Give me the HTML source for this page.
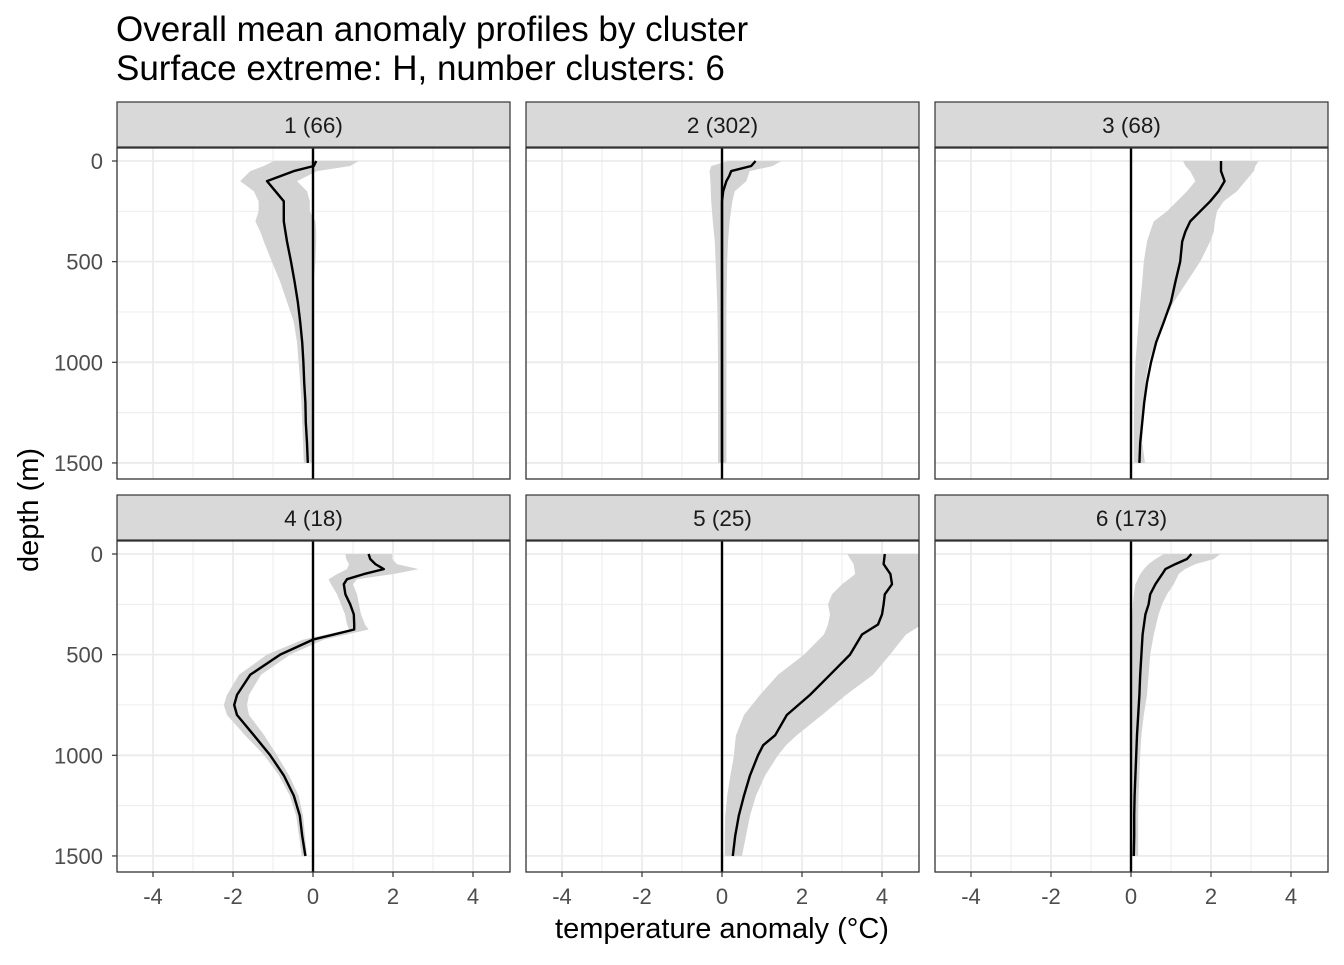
<!DOCTYPE html>
<html><head><meta charset="utf-8"><style>
body{margin:0;background:#fff;}
svg text{font-family:"Liberation Sans",sans-serif;}
</style></head><body>
<svg id="chart" width="1344" height="960" xmlns="http://www.w3.org/2000/svg">
<text x="116" y="41" font-size="35" fill="#000">Overall mean anomaly profiles by cluster</text>
<text x="116" y="80" font-size="35" fill="#000">Surface extreme: H, number clusters: 6</text>
<text x="722" y="938" font-size="29" text-anchor="middle" fill="#000">temperature anomaly (°C)</text>
<text transform="translate(38,510) rotate(-90)" font-size="29" text-anchor="middle" fill="#000">depth (m)</text>
</svg>
<script>
const clusterLabels = ["1 (66)","2 (302)","3 (68)","4 (18)","5 (25)","6 (173)"];
const xTicks = [-4,-2,0,2,4];
const yTicks = [0,500,1000,1500];
const depth1 = [0,25,50,100,150,200,250,300,350,400,500,600,700,800,900,1000,1100,1200,1300,1400,1500];
const mean1 = [0.08,0.02,-0.48,-1.15,-0.94,-0.73,-0.73,-0.73,-0.69,-0.65,-0.55,-0.46,-0.38,-0.32,-0.27,-0.24,-0.22,-0.19,-0.18,-0.15,-0.13];
const lo1 = [-0.98,-1.23,-1.57,-1.82,-1.48,-1.36,-1.36,-1.44,-1.32,-1.23,-1.03,-0.82,-0.65,-0.48,-0.4,-0.36,-0.32,-0.29,-0.27,-0.25,-0.23];
const hi1 = [1.14,0.93,0.1,-0.4,-0.15,-0.08,-0.08,0.06,0.08,0.08,0.06,0.02,0.0,0.0,0.0,0.0,0.0,0.0,0.0,0.0,0.0];
const depth2 = [0,25,50,75,100,150,200,300,400,500,600,700,800,1000,1200,1500];
const mean2 = [0.84,0.73,0.23,0.18,0.11,0.03,0.0,0.0,0.0,0.0,0.0,0.0,0.0,0.0,0.0,0.0];
const lo2 = [0.15,-0.27,-0.31,-0.3,-0.29,-0.28,-0.27,-0.23,-0.18,-0.16,-0.14,-0.12,-0.11,-0.1,-0.1,-0.1];
const hi2 = [1.48,1.27,0.69,0.65,0.61,0.32,0.26,0.19,0.15,0.13,0.12,0.11,0.11,0.11,0.11,0.11];
const depth3 = [0,25,50,100,150,200,250,300,350,400,500,600,700,800,900,1000,1100,1200,1300,1400,1500];
const mean3 = [2.25,2.25,2.25,2.34,2.19,1.98,1.73,1.48,1.36,1.28,1.23,1.11,1.0,0.82,0.63,0.5,0.4,0.33,0.28,0.23,0.21];
const lo3 = [1.3,1.36,1.48,1.61,1.4,1.15,0.9,0.57,0.48,0.4,0.32,0.28,0.23,0.19,0.15,0.11,0.09,0.08,0.07,0.07,0.07];
const hi3 = [3.19,3.11,3.07,2.86,2.65,2.32,2.15,2.1,2.07,1.98,1.73,1.4,1.07,0.82,0.61,0.44,0.36,0.32,0.3,0.28,0.35];
const depth4 = [0,25,50,75,100,125,150,200,250,300,350,375,425,500,600,700,750,800,900,1000,1100,1200,1300,1400,1500];
const mean4 = [1.39,1.43,1.56,1.77,1.27,0.85,0.77,0.81,0.93,1.02,1.03,1.03,0.0,-0.82,-1.57,-1.9,-1.97,-1.9,-1.48,-1.07,-0.73,-0.48,-0.33,-0.27,-0.19];
const lo4 = [0.81,0.83,0.9,0.85,0.6,0.39,0.45,0.6,0.7,0.8,0.85,0.9,-0.25,-1.15,-1.85,-2.15,-2.23,-2.15,-1.7,-1.22,-0.85,-0.58,-0.42,-0.35,-0.28];
const hi4 = [1.98,1.98,2.1,2.64,2.0,1.1,1.0,1.1,1.15,1.2,1.3,1.39,0.27,-0.57,-1.3,-1.6,-1.65,-1.6,-1.22,-0.9,-0.6,-0.36,-0.25,-0.2,-0.15];
const depth5 = [0,50,100,150,200,250,300,350,400,500,600,700,800,900,950,1000,1100,1200,1300,1400,1500];
const mean5 = [4.07,4.04,4.21,4.25,4.07,4.04,4.0,3.9,3.5,3.2,2.7,2.2,1.62,1.33,1.03,0.9,0.7,0.55,0.42,0.33,0.27];
const lo5 = [3.13,3.29,3.33,3.0,2.75,2.65,2.7,2.65,2.55,2.05,1.4,0.95,0.55,0.35,0.32,0.3,0.21,0.13,0.08,0.07,0.07];
const hi5 = [5.5,5.5,5.5,5.5,5.5,5.5,5.5,5.0,4.6,4.2,3.78,3.1,2.5,1.87,1.6,1.4,1.08,0.85,0.7,0.6,0.5];
const depth6 = [0,25,50,75,100,150,200,250,300,400,500,600,700,800,900,1000,1100,1200,1300,1400,1500];
const mean6 = [1.51,1.4,1.11,0.86,0.78,0.61,0.48,0.44,0.36,0.29,0.26,0.23,0.21,0.18,0.15,0.13,0.11,0.09,0.08,0.08,0.07];
const lo6 = [0.82,0.61,0.44,0.32,0.23,0.11,0.07,0.05,0.03,0.02,0.01,0.01,0.01,0.01,0.01,0.01,0.01,0.01,0.01,0.01,0.01];
const hi6 = [2.23,2.07,1.61,1.35,1.19,1.07,0.9,0.78,0.69,0.57,0.48,0.44,0.4,0.32,0.26,0.23,0.21,0.19,0.18,0.18,0.18];

const depths=[depth1,depth2,depth3,depth4,depth5,depth6];
const means=[mean1,mean2,mean3,mean4,mean5,mean6];
const los=[lo1,lo2,lo3,lo4,lo5,lo6];
const his=[hi1,hi2,hi3,hi4,hi5,hi6];

const NS="http://www.w3.org/2000/svg";
const svg=document.getElementById('chart');
const colL=[117,526,935], rowT=[148,541], PW=393, PH=331;
function mk(tag,attrs,parent){const e=document.createElementNS(NS,tag);for(const k in attrs)e.setAttribute(k,attrs[k]);(parent||svg).appendChild(e);return e;}

for(let i=0;i<6;i++){
  const L=colL[i%3], T=rowT[Math.floor(i/3)];
  const sx=v=>L+(v+4.9)*40;
  const sy=d=>T+13+d*0.2013;
  const g=mk('g',{});
  
  
  const cp=mk('clipPath',{id:'cp'+i},g);
  mk('rect',{x:L,y:T,width:PW,height:PH},cp);
  const strip=mk('rect',{x:L,y:T-46,width:PW,height:45,fill:'#d9d9d9',stroke:'#333','stroke-width':1.2},g);
  
  
  const st=mk('text',{x:L+PW/2,y:T-15,'font-size':22.5,'text-anchor':'middle',fill:'#1a1a1a'},g);
  st.textContent=clusterLabels[i];
  
  
  for(let v=-4;v<=4;v++){mk('line',{x1:sx(v),x2:sx(v),y1:T,y2:T+PH,stroke:'#ebebeb','stroke-width':v%2===0?1.8:0.9},g);}
  for(let d=0;d<=1500;d+=250){mk('line',{x1:L,x2:L+PW,y1:sy(d),y2:sy(d),stroke:'#ebebeb','stroke-width':d%500===0?1.8:0.9},g);}
  const D=depths[i];
  let p='';
  D.forEach((d,j)=>{p+=(j?'L':'M')+sx(los[i][j]).toFixed(1)+','+sy(d).toFixed(1);});
  for(let j=D.length-1;j>=0;j--){p+='L'+sx(his[i][j]).toFixed(1)+','+sy(D[j]).toFixed(1);}
  const rib=mk('path',{d:p+'Z',fill:'#d3d3d3','clip-path':'url(#cp'+i+')'},g);
  
  
  const z=mk('line',{x1:sx(0),x2:sx(0),y1:T,y2:T+PH,stroke:'#000','stroke-width':2.4},g);
  
  
  let m='';
  D.forEach((d,j)=>{m+=(j?'L':'M')+sx(means[i][j]).toFixed(1)+','+sy(d).toFixed(1);});
  const ml=mk('path',{d:m,fill:'none',stroke:'#000','stroke-width':2.4,'stroke-linejoin':'round','clip-path':'url(#cp'+i+')'},g);
  
  
  mk('rect',{x:L,y:T,width:PW,height:PH,fill:'none',stroke:'#333','stroke-width':1.3},g);
  if(i%3===0){
    yTicks.forEach(d=>{
      mk('line',{x1:L-5,x2:L,y1:sy(d),y2:sy(d),stroke:'#333','stroke-width':1.2},g);
      const t=mk('text',{x:L-14,y:sy(d)+8,'font-size':22,'text-anchor':'end',fill:'#4d4d4d'},g);
      t.textContent=d;
      
      
    });
  }
  if(i>=3){
    xTicks.forEach(v=>{
      mk('line',{x1:sx(v),x2:sx(v),y1:T+PH,y2:T+PH+5,stroke:'#333','stroke-width':1.2},g);
      const t=mk('text',{x:sx(v),y:T+PH+32,'font-size':22,'text-anchor':'middle',fill:'#4d4d4d'},g);
      t.textContent=v;
      
      
    });
  }
}
</script>
</body></html>
